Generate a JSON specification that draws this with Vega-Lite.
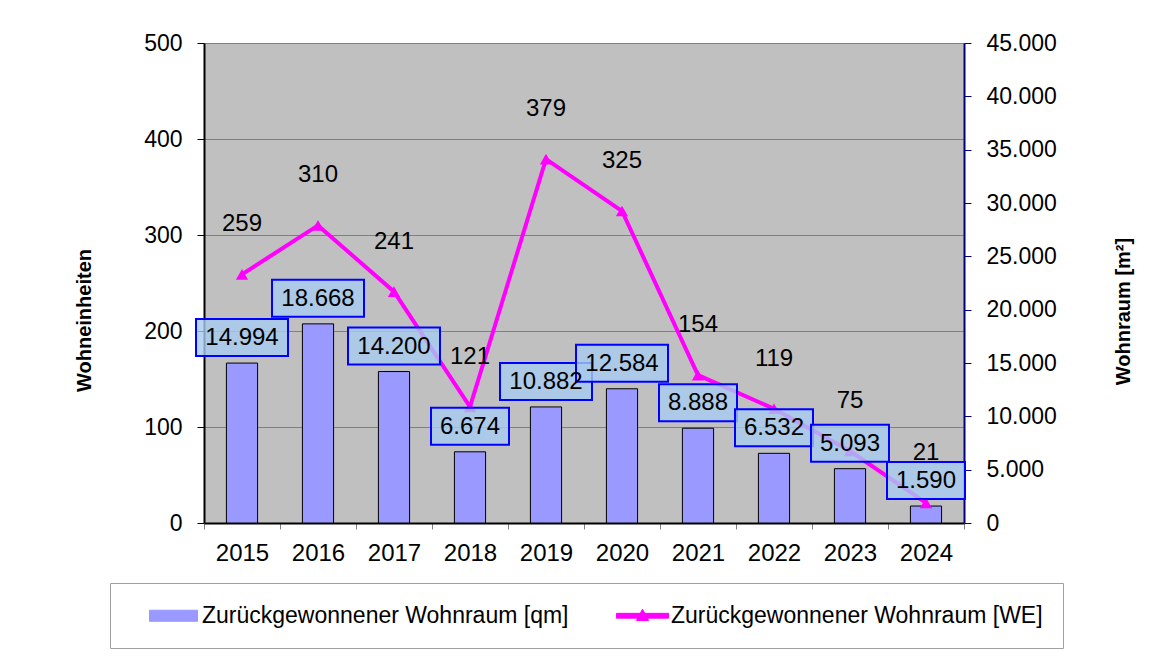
{
  "$schema": "https://vega.github.io/schema/vega-lite/v6.json",
  "width": 760,
  "height": 480,
  "autosize": {"type": "none"},
  "padding": {"left": 204, "top": 43, "right": 188, "bottom": 135},
  "background": "white",
  "config": {
    "font": "Liberation Sans",
    "view": {"fill": "#C0C0C0", "stroke": null},
    "axis": {"labelColor": "black", "titleColor": "black", "labelFont": "Liberation Sans", "titleFont": "Liberation Sans"},
    "legend": {"labelFont": "Liberation Sans"}
  },
  "data": {
    "values": [
      {"year": "2015", "we": 259, "qm": 14994},
      {"year": "2016", "we": 310, "qm": 18668},
      {"year": "2017", "we": 241, "qm": 14200},
      {"year": "2018", "we": 121, "qm": 6674},
      {"year": "2019", "we": 379, "qm": 10882},
      {"year": "2020", "we": 325, "qm": 12584},
      {"year": "2021", "we": 154, "qm": 8888},
      {"year": "2022", "we": 119, "qm": 6532},
      {"year": "2023", "we": 75, "qm": 5093},
      {"year": "2024", "we": 21, "qm": 1590}
    ]
  },
  "encoding": {
    "x": {
      "field": "year",
      "type": "ordinal",
      "scale": {"paddingInner": 0, "paddingOuter": 0},
      "axis": {
        "title": null,
        "labelAngle": 0,
        "labelFontSize": 24,
        "labelPadding": 12,
        "tickBand": "extent",
        "tickColor": "#808080",
        "tickSize": 6,
        "domainColor": "black",
        "domainWidth": 2,
        "grid": false
      }
    }
  },
  "layer": [
    {
      "layer": [
        {
          "mark": {"type": "bar", "width": {"band": 0.41}, "stroke": "black", "strokeWidth": 1},
          "encoding": {
            "y": {
              "field": "qm",
              "type": "quantitative",
              "scale": {"domain": [0, 45000], "nice": false},
              "axis": {
                "orient": "right",
                "values": [0, 5000, 10000, 15000, 20000, 25000, 30000, 35000, 40000, 45000],
                "labelExpr": "replace(format(datum.value, ','), ',', '.')",
                "grid": false,
                "domainColor": "#000080",
                "domainWidth": 2,
                "tickColor": "#000080",
                "tickSize": 7,
                "labelPadding": 15,
                "labelFontSize": 23,
                "title": "Wohnraum [m²]",
                "titleFontSize": 20,
                "titleFontWeight": "bold",
                "titleAngle": 270,
                "titleAlign": "center",
                "titleBaseline": "middle",
                "titleX": 159,
                "titleY": 268
              }
            },
            "color": {
              "datum": "Zurückgewonnener Wohnraum [qm]",
              "type": "nominal",
              "scale": {
                "domain": ["Zurückgewonnener Wohnraum [qm]", "Zurückgewonnener Wohnraum [WE]"],
                "range": ["#9999FF", "#FF00FF"]
              },
              "legend": {
                "orient": "none",
                "legendX": -94,
                "legendY": 540,
                "direction": "horizontal",
                "title": null,
                "symbolSize": 576,
                "symbolType": {"expr": "datum.value === 'Zurückgewonnener Wohnraum [qm]' ? 'M-2,-0.46H2V0.46H-2Z' : 'M-2.17,-0.2H2.17V0.2H-2.17Z M-0.5,0.4L0,-0.55L0.5,0.4Z'"},
                "symbolStrokeColor": {"expr": "datum.value === 'Zurückgewonnener Wohnraum [qm]' ? 'black' : '#FF00FF'"},
                "symbolStrokeWidth": 1,
                "symbolOpacity": 1,
                "padding": 20,
                "symbolOffset": 31,
                "labelOffset": 16,
                "columnPadding": 30,
                "labelFontSize": 23,
                "labelColor": "black",
                "labelLimit": 0,
                "strokeColor": "#A0A0A0",
                "fillColor": "white"
              }
            }
          }
        }
      ]
    },
    {
      "layer": [
        {
          "mark": {"type": "line", "strokeWidth": 4, "point": {"shape": "triangle-up", "size": 150, "filled": true}},
          "encoding": {
            "y": {
              "field": "we",
              "type": "quantitative",
              "scale": {"domain": [0, 500], "nice": false},
              "axis": {
                "orient": "left",
                "values": [0, 100, 200, 300, 400, 500],
                "grid": true,
                "gridColor": "#808080",
                "gridWidth": 1,
                "domainColor": "black",
                "domainWidth": 2,
                "tickColor": "black",
                "tickSize": 7,
                "labelPadding": 15,
                "labelFontSize": 23,
                "title": "Wohneinheiten",
                "titleFontSize": 20,
                "titleFontWeight": "bold",
                "titleAngle": 270,
                "titleAlign": "center",
                "titleBaseline": "middle",
                "titleX": -120,
                "titleY": 277
              }
            },
            "color": {"datum": "Zurückgewonnener Wohnraum [WE]", "type": "nominal"}
          }
        },
        {
          "mark": {"type": "text", "dy": -50, "fontSize": 24, "baseline": "middle", "align": "center", "color": "black"},
          "encoding": {
            "y": {"field": "we", "type": "quantitative"},
            "text": {"field": "we", "type": "quantitative"}
          }
        }
      ]
    },
    {
      "layer": [
        {
          "mark": {
            "type": "bar",
            "width": {"expr": "datum.qm >= 10000 ? 92 : 78"},
            "yOffset": -44,
            "y2Offset": -7,
            "fill": "#A6CAF0",
            "fillOpacity": 0.8,
            "stroke": "#0000FF",
            "strokeWidth": 2
          },
          "encoding": {
            "y": {"field": "qm", "type": "quantitative", "scale": {"domain": [0, 45000], "nice": false}, "axis": null},
            "y2": {"field": "qm"}
          }
        },
        {
          "mark": {
            "type": "text",
            "text": {"expr": "replace(format(datum.qm, ','), ',', '.')"},
            "dy": -25,
            "fontSize": 24,
            "baseline": "middle",
            "align": "center",
            "color": "black"
          },
          "encoding": {
            "y": {"field": "qm", "type": "quantitative"}
          }
        }
      ]
    }
  ],
  "resolve": {"scale": {"y": "independent"}}
}
